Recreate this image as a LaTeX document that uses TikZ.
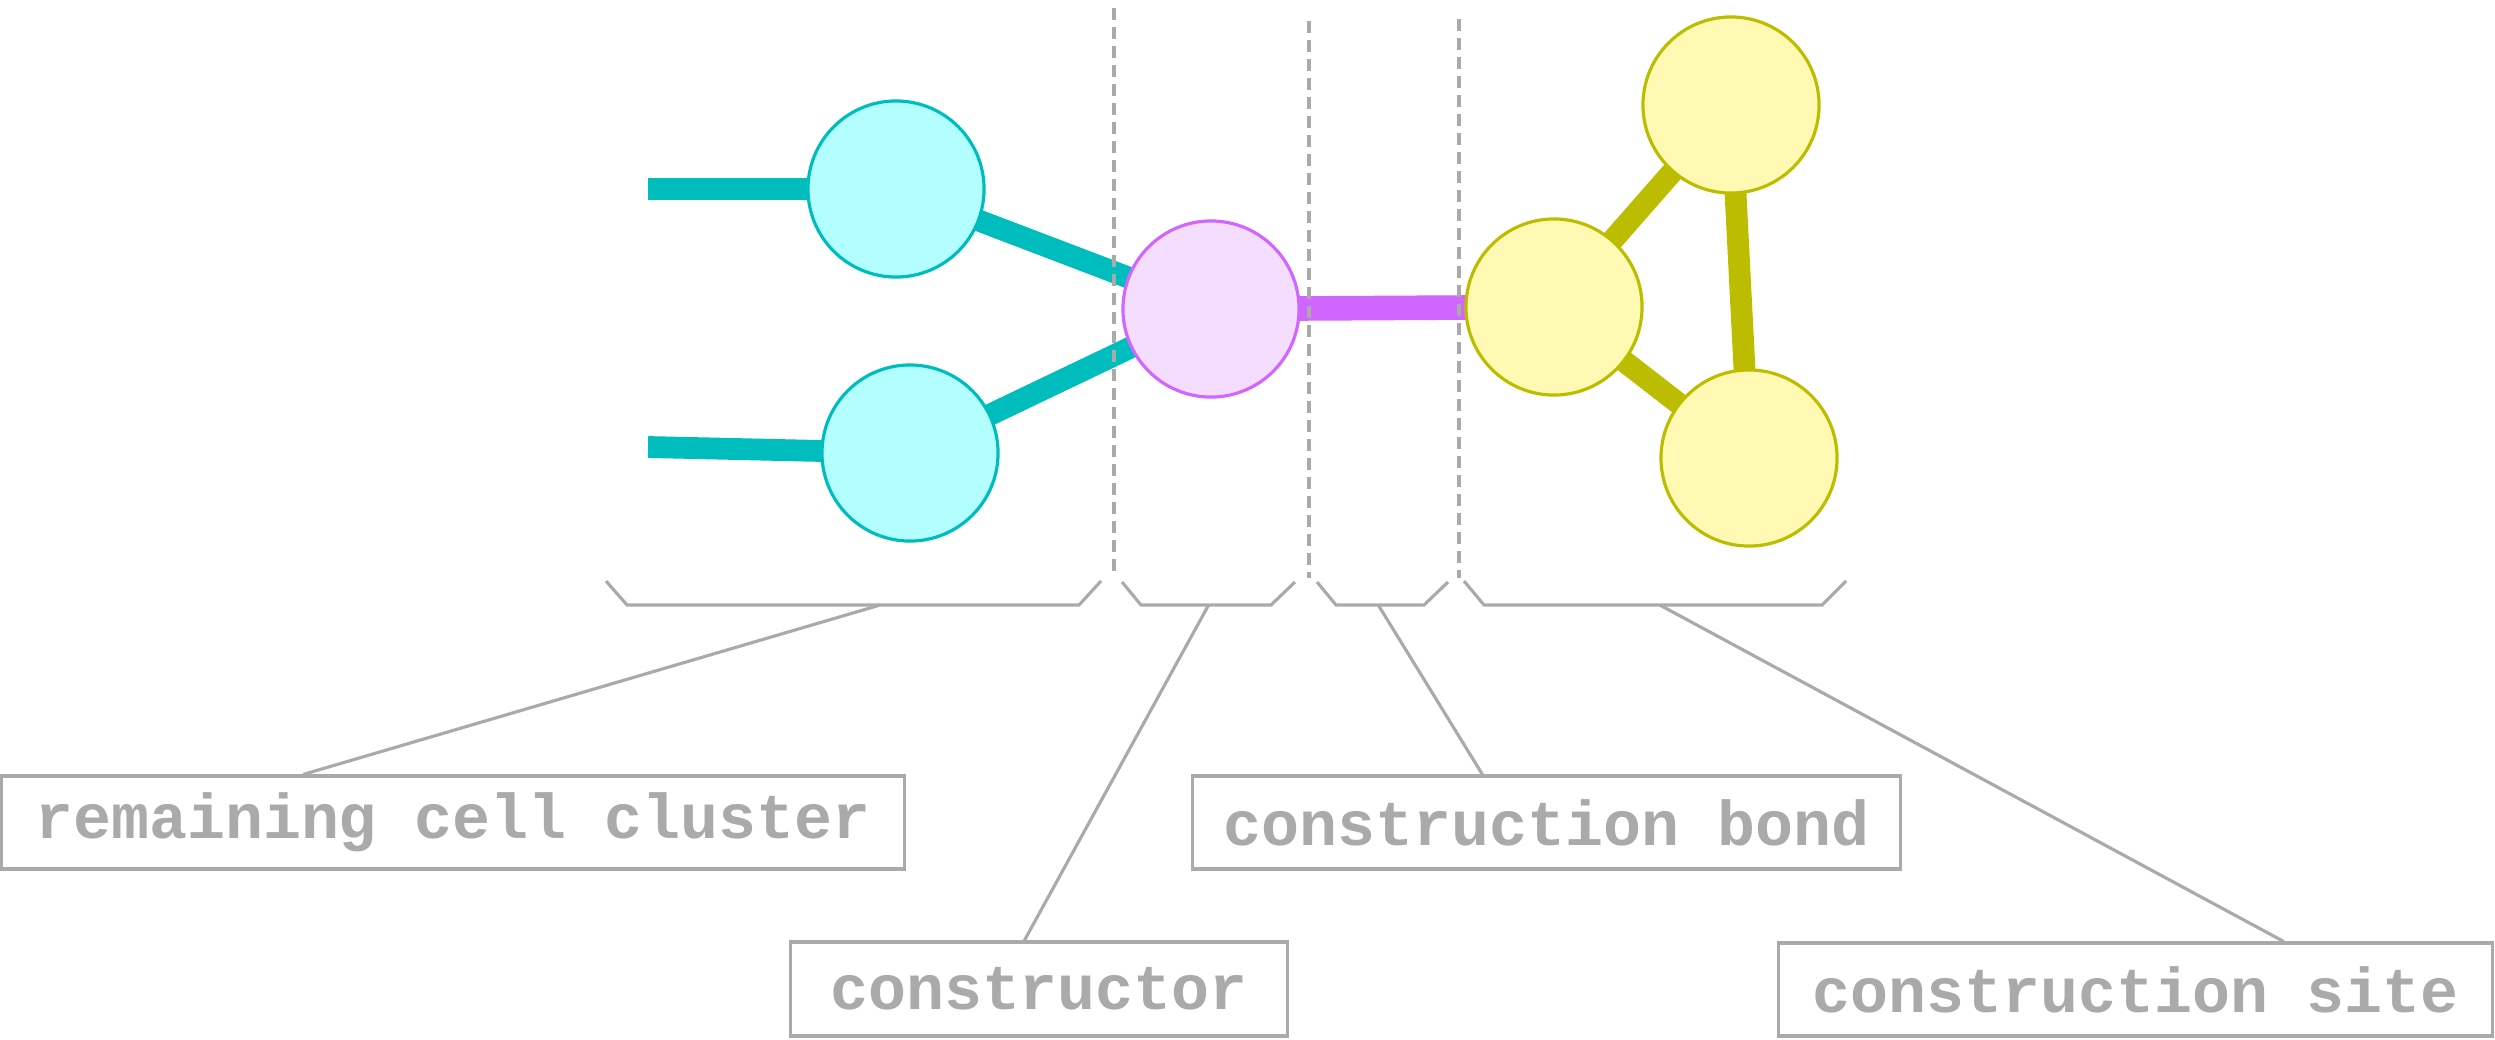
\documentclass[tikz,border=0pt]{standalone}
\usepackage{fontspec}
\setmonofont{Liberation Mono}
\usetikzlibrary{backgrounds}
\definecolor{cyanfill}{HTML}{B3FFFF}
\definecolor{cyanline}{HTML}{00BDBD}
\definecolor{pinkfill}{HTML}{F5DDFF}
\definecolor{pinkline}{HTML}{D166FF}
\definecolor{yellowfill}{HTML}{FFF9B3}
\definecolor{yellowline}{HTML}{BDBD00}
\definecolor{labelgray}{HTML}{AAAAAA}
\tikzset{
    cell/.style={circle, minimum size=1.76cm, inner sep=0pt, line width=0.9pt}, % one cell of the cluster
    remaining/.style={cell, draw=cyanline, fill=cyanfill},
    constructor/.style={cell, draw=pinkline, fill=pinkfill},
    site/.style={cell, draw=yellowline, fill=yellowfill},
    bond/.style={line width=6.2pt}, % thick connections between cells
    divider/.style={draw=labelgray, line width=1.1pt, dash pattern=on 0.12cm off 0.07cm},
    brace/.style={draw=labelgray, line width=0.9pt},
    label/.style={draw=labelgray, line width=0.9pt, text=labelgray, inner sep=0pt,
        font=\ttfamily\bfseries\fontsize{18}{20}\selectfont},
}

\begin{document}
\begin{tikzpicture}[x=0.01cm, y=-0.01cm]
    \useasboundingbox (0,0) rectangle (2495,1039);

    % cells
    \node[remaining] (r1) at (896,189) {};
    \node[remaining] (r2) at (910,453) {};
    \node[constructor] (c) at (1211,309) {};
    \node[site] (s1) at (1554,307) {};
    \node[site] (s2) at (1731,105) {};
    \node[site] (s3) at (1749,458) {};
    \coordinate (r1end) at (648,189);
    \coordinate (r2end) at (648,447);

    % bonds, behind the cells
    \begin{pgfonlayer}{background}
        \draw[bond, cyanline] (r1end) -- (r1.center) -- (c.center);
        \draw[bond, cyanline] (r2end) -- (r2.center) -- (c.center);
        \draw[bond, pinkline, line width=7pt] (c.center) -- (s1.center);
        \draw[bond, yellowline] (s1.center) -- (s2.center) -- (s3.center) -- (s1.center);
    \end{pgfonlayer}

    % dividers
    \coordinate (d1top) at (1114,8);
    \coordinate (d1bot) at (1114,578);
    \coordinate (d2top) at (1309,21);
    \coordinate (d2bot) at (1309,578);
    \coordinate (d3top) at (1459,19);
    \coordinate (d3bot) at (1459,578);
    \draw[divider] (d1top) -- (d1bot);
    \draw[divider] (d2top) -- (d2bot);
    \draw[divider] (d3top) -- (d3bot);

    % braces under each part
    \draw[brace] (606,581) -- (627,605) -- coordinate[pos=0.56] (b1) (1079,605) -- (1101,581);
    \draw[brace] (1122,582) -- (1141,605) -- coordinate[pos=0.52] (b2) (1271,605) -- (1295,582);
    \draw[brace] (1317,582) -- (1336,605) -- coordinate[pos=0.48] (b3) (1424,605) -- (1448,582);
    \draw[brace] (1464,581) -- (1484,605) -- coordinate[pos=0.52] (b4) (1822,605) -- (1846,581);

    % labels
    \node[label, minimum width=9.02cm, minimum height=0.93cm] (cluster) at (453,822.5) {remaining cell cluster};
    \node[label, minimum width=4.96cm, minimum height=0.94cm] (ctor) at (1039,989) {constructor};
    \node[label, minimum width=7.07cm, minimum height=0.93cm] (cbond) at (1546.5,822.5) {construction bond};
    \node[label, minimum width=7.13cm, minimum height=0.93cm] (csite) at (2135.5,989.5) {construction site};

    \draw[brace] (b1) -- ([xshift=3.03cm]cluster.north west);
    \draw[brace] (b2) -- ([xshift=2.35cm]ctor.north west);
    \draw[brace] (b3) -- ([xshift=2.91cm]cbond.north west);
    \draw[brace] (b4) -- ([xshift=5.06cm]csite.north west);
\end{tikzpicture}
\end{document}
